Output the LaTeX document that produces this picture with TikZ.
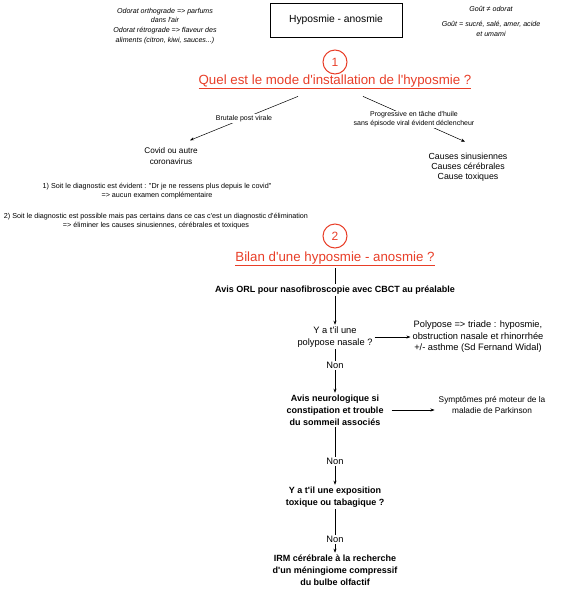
\documentclass[tikz,border=0pt]{standalone}
\usepackage{fontspec}
\setmainfont{Liberation Sans}[Ligatures=TeXOff]
\usetikzlibrary{arrows.meta}
\definecolor{titlered}{RGB}{232,62,40}
\begin{document}
\begin{tikzpicture}[x=1pt,y=-1pt,
	note/.style={font=\fontsize{7.1}{9.8}\selectfont\itshape, align=center, inner sep=1pt},
	small/.style={font=\fontsize{7.2}{9.5}\selectfont, align=center, inner sep=1pt},
	lbltxt/.style={font=\fontsize{7}{8.5}\selectfont, align=center, inner sep=1pt},
	txt/.style={font=\fontsize{8.3}{10.5}\selectfont, align=center, inner sep=2pt},
	bigtxt/.style={font=\fontsize{9.3}{11.5}\selectfont, align=center, inner sep=2pt},
	boldtxt/.style={font=\fontsize{9}{11.8}\selectfont\bfseries, align=center, inner sep=2pt},
	redtitle/.style={font=\fontsize{13.3}{15}\selectfont, text=titlered, inner sep=2pt},
	num/.style={circle, draw=titlered, line width=1pt, minimum size=24pt, inner sep=0pt, text=titlered, font=\fontsize{12}{13}\selectfont},
	arr/.style={-{Stealth[length=4pt,width=3pt]}, line width=0.5pt},
	lbl/.style={fill=white, inner sep=1pt}]
	\useasboundingbox (0,0) rectangle (566,600);
	
	\node[note] (orth) at (165,26) {Odorat orthograde => parfums\\dans l'air\\Odorat rétrograde => flaveur des\\aliments (citron, kiwi, sauces...)};
	\node[draw, line width=0.5pt, minimum width=132pt, minimum height=34pt, font=\fontsize{10.3}{12}\selectfont] (main) at (336,20) {Hyposmie - anosmie};
	\node[note] (gout) at (491,9) {Goût ≠ odorat};
	\node[note] (saveurs) at (491,29) {Goût = sucré, salé, amer, acide\\et umami};
	
	\node[num] (one) at (335,62) {1};
	\node[redtitle] (q1) at (335,82) {\underline{Quel est le mode d'installation de l'hyposmie ?}};
	\node[txt, font=\fontsize{8.2}{11}\selectfont] (covid) at (171,156) {Covid ou autre\\coronavirus};
	\node[txt, font=\fontsize{8.8}{10}\selectfont] (causes) at (468,167) {Causes sinusiennes\\Causes cérébrales\\Cause toxiques};
	\draw[arr] ([xshift=-37pt, yshift=-5pt]q1.south) -- node[lbltxt, lbl] {Brutale post virale} ([xshift=19pt, yshift=5pt]covid.north);
	\draw[arr] ([xshift=28pt, yshift=-5pt]q1.south) -- node[lbltxt, lbl] {Progressive en tâche d'huile\\sans épisode viral évident déclencheur} ([xshift=-3pt, yshift=9pt]causes.north);
	
	\node[small] (diag1) at (157,191) {1) Soit le diagnostic est évident : "Dr je ne ressens plus depuis le covid"\\=> aucun examen complémentaire};
	\node[small] (diag2) at (156,221) {2) Soit le diagnostic est possible mais pas certains dans ce cas c'est un diagnostic d'élimination\\=> éliminer les causes sinusiennes, cérébrales et toxiques};
	
	\node[num] (two) at (335,236) {2};
	\node[redtitle] (q2) at (335,259) {\underline{Bilan d'une hyposmie - anosmie ?}};
	\node[boldtxt] (orl) at (335,290) {Avis ORL pour nasofibroscopie avec CBCT au préalable};
	\node[bigtxt] (polyp) at (335,337) {Y a t'il une\\polypose nasale ?};
	\node[bigtxt] (triade) at (478,337) {Polypose => triade : hyposmie,\\obstruction nasale et rhinorrhée\\+/- asthme (Sd Fernand Widal)};
	\node[boldtxt] (neuro) at (335,410) {Avis neurologique si\\constipation et trouble\\du sommeil associés};
	\node[txt] (parkinson) at (492,405) {Symptômes pré moteur de la\\maladie de Parkinson};
	\node[boldtxt] (expo) at (335,497) {Y a t'il une exposition\\toxique ou tabagique ?};
	\node[boldtxt] (irm) at (335,570) {IRM cérébrale à la recherche\\d'un méningiome compressif\\du bulbe olfactif};
	
	\draw[line width=0.5pt] (q2) -- (orl);
	\draw[arr] (orl) -- (polyp);
	\draw[arr] (polyp) -- (triade);
	\draw[arr] (polyp) -- node[bigtxt, lbl, pos=0.37] {Non} (neuro);
	\draw[arr, shorten <=6pt, shorten >=2pt] (neuro.east) -- (neuro.east -| parkinson.west);
	\draw[arr] (neuro) -- node[bigtxt, lbl, pos=0.6] {Non} (expo);
	\draw[arr] (expo) -- node[bigtxt, lbl, pos=0.7] {Non} (irm);
\end{tikzpicture}
\end{document}
